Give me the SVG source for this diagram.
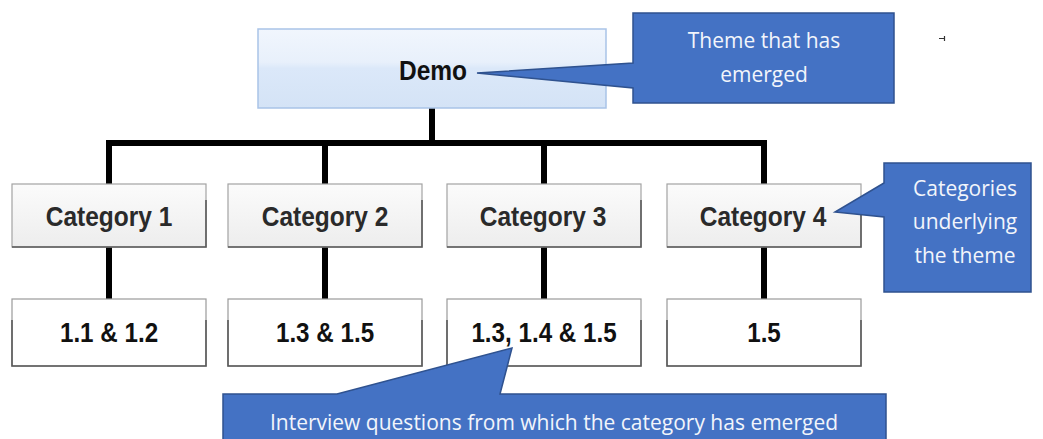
<svg xmlns="http://www.w3.org/2000/svg" width="1043" height="439" viewBox="0 0 1043 439">
  <defs>
    <linearGradient id="gDemo" x1="0" y1="0" x2="0" y2="1">
      <stop offset="0" stop-color="#f1f6fd"/>
      <stop offset="0.42" stop-color="#e8f0fb"/>
      <stop offset="0.5" stop-color="#dbe8f9"/>
      <stop offset="1" stop-color="#d4e3f6"/>
    </linearGradient>
    <linearGradient id="gCat" x1="0" y1="0" x2="0" y2="1">
      <stop offset="0" stop-color="#fbfbfb"/>
      <stop offset="1" stop-color="#ededed"/>
    </linearGradient>
  </defs>
  <style>
    .lbl{font-family:"Liberation Sans",Arial,sans-serif;font-weight:bold;text-anchor:middle}
    .top{font-size:24.5px;fill:#111}
    .cat{font-size:24.5px;fill:#2a2a2a}
    .num{font-size:24.2px;fill:#111}
    .note{font-family:"Open Sans","Noto Sans",sans-serif;font-size:21px;fill:#f2f5fb;text-anchor:middle}
    .callout{fill:#4472c4;stroke:#2f528f;stroke-width:1.5;stroke-linejoin:miter}
    .catbox{fill:url(#gCat);stroke:#a3a3a3;stroke-width:1.2}
    .numbox{fill:#fff;stroke:#9a9a9a;stroke-width:1.2}
    .edge{fill:none;stroke:#5a5a5a;stroke-width:1.6}
    .wire{fill:none;stroke:#000;stroke-width:6;stroke-linejoin:miter;stroke-linecap:butt}
  </style>

  <!-- tree connectors -->
  <g id="connectors">
    <path class="wire" d="M432,108 V143"/>
    <path class="wire" d="M109,184 V143 H764 V184"/>
    <path class="wire" d="M325,143 V184"/>
    <path class="wire" d="M544,143 V184"/>
    <path class="wire" d="M109,247 V299"/>
    <path class="wire" d="M325,247 V299"/>
    <path class="wire" d="M544,247 V299"/>
    <path class="wire" d="M764,247 V299"/>
  </g>

  <!-- root theme -->
  <g id="demo">
    <rect x="258" y="29" width="348" height="79" fill="url(#gDemo)" stroke="#a9c3e7" stroke-width="1.5"/>
    <text class="lbl top" transform="translate(433,80) scale(1,1.14)">Demo</text>
  </g>

  <!-- categories -->
  <g id="category1">
    <rect class="catbox" x="12" y="184" width="194" height="63"/>
    <path class="edge" d="M12,247 H206 V200"/>
    <text class="lbl cat" transform="translate(109,226) scale(1,1.14)">Category 1</text>
  </g>
  <g id="category2">
    <rect class="catbox" x="228" y="184" width="194" height="63"/>
    <path class="edge" d="M228,247 H422 V200"/>
    <text class="lbl cat" transform="translate(325,226) scale(1,1.14)">Category 2</text>
  </g>
  <g id="category3">
    <rect class="catbox" x="447" y="184" width="194" height="63"/>
    <path class="edge" d="M447,247 H641 V200"/>
    <text class="lbl cat" transform="translate(543,226) scale(1,1.14)">Category 3</text>
  </g>
  <g id="category4">
    <rect class="catbox" x="667" y="184" width="194" height="63"/>
    <path class="edge" d="M667,247 H861 V200"/>
    <text class="lbl cat" transform="translate(763,226) scale(1,1.14)">Category 4</text>
  </g>

  <!-- interview question groups -->
  <g id="questions1">
    <rect class="numbox" x="12" y="299" width="194" height="67"/>
    <path class="edge" d="M12,320 V366 H206 V320"/>
    <text class="lbl num" transform="translate(109,342) scale(1,1.14)">1.1 &amp; 1.2</text>
  </g>
  <g id="questions2">
    <rect class="numbox" x="228" y="299" width="194" height="67"/>
    <path class="edge" d="M228,320 V366 H422 V320"/>
    <text class="lbl num" transform="translate(325,342) scale(1,1.14)">1.3 &amp; 1.5</text>
  </g>
  <g id="questions3">
    <rect class="numbox" x="447" y="299" width="194" height="67"/>
    <path class="edge" d="M447,320 V366 H641 V320"/>
    <text class="lbl num" transform="translate(544,342) scale(1,1.14)">1.3, 1.4 &amp; 1.5</text>
  </g>
  <g id="questions4">
    <rect class="numbox" x="667" y="299" width="194" height="67"/>
    <path class="edge" d="M667,320 V366 H861 V320"/>
    <text class="lbl num" transform="translate(764,342) scale(1,1.14)">1.5</text>
  </g>

  <!-- explanatory callouts -->
  <g id="note-theme">
    <path class="callout" d="M633,13 H894 V103 H633 V88 L477,73 L633,63 Z"/>
    <text class="note" x="764" y="48">Theme that has</text>
    <text class="note" x="764" y="82">emerged</text>
  </g>
  <g id="note-categories">
    <path class="callout" d="M884,163 H1031 V292 H884 V217 L835,212 L884,183 Z"/>
    <text class="note" x="965" y="196">Categories</text>
    <text class="note" x="965" y="229">underlying</text>
    <text class="note" x="965" y="263">the theme</text>
  </g>
  <g id="note-questions">
    <path class="callout" d="M223,394 H337 L512,348 L500,394 H886 V442 H223 Z"/>
    <text class="note" x="554" y="430">Interview questions from which the category has emerged</text>
  </g>

  <!-- small stray mark -->
  <path d="M939,38.5 H945 M944.5,36 V41" stroke="#333" stroke-width="1.2" fill="none"/>
</svg>
